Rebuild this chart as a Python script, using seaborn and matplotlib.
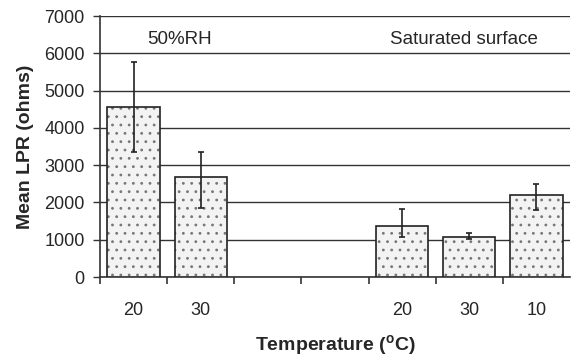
import numpy as np
import pandas as pd
import matplotlib
matplotlib.use("Agg")
import matplotlib.pyplot as plt
from matplotlib.patches import Rectangle
import seaborn as sns

# ---- data ----
slots = ["RH20", "RH30", "gap1", "gap2", "S20", "S30", "S10"]
tick_labels = ["20", "30", "", "", "20", "30", "10"]
bar_slots = ["RH20", "RH30", "S20", "S30", "S10"]
mean_lpr = [4570, 2690, 1380, 1080, 2210]
err_low = [1210, 850, 300, 70, 400]
err_high = [1190, 655, 445, 110, 295]
group_labels = ["50%RH", "Saturated surface"]

sns.set_theme(style="white")
plt.rcParams["font.family"] = ["Liberation Sans", "DejaVu Sans"]
plt.rcParams["hatch.linewidth"] = 0.8

df = pd.DataFrame({"slot": bar_slots, "lpr": mean_lpr})

fig = plt.figure(figsize=(5.73, 3.59), dpi=100)
ax = fig.add_axes([0.1745, 0.2284, 0.8203, 0.727])

sns.barplot(data=df, x="slot", y="lpr", order=slots, width=0.78,
            color="#f3f3f3", errorbar=None, ax=ax, zorder=3)

for p in list(ax.patches):
    p.set_hatch("..")
    p.set_edgecolor("#777777")
    p.set_linewidth(0)
    outline = Rectangle(p.get_xy(), p.get_width(), p.get_height(), fill=False,
                        edgecolor="#222222", linewidth=1.2, zorder=3.5)
    ax.add_patch(outline)

xpos = [slots.index(s) for s in bar_slots]
ax.errorbar(xpos, mean_lpr, yerr=[err_low, err_high], fmt="none",
            ecolor="#222222", elinewidth=1.2, capsize=2.5, capthick=1.2, zorder=4)

ax.set_ylim(0, 7000)
ax.set_xlim(-0.5, 6.5)
ax.set_yticks(np.arange(0, 7001, 1000))
ax.yaxis.grid(True, color="#333333", linewidth=1.0)
ax.set_axisbelow(True)

ax.set_xticks(range(len(slots)))
ax.set_xticklabels(tick_labels, fontsize=13)
ax.tick_params(axis="x", length=0, pad=18)
ax.set_xticks(np.arange(-0.5, 6.0, 1.0), minor=True)
ax.tick_params(axis="x", which="minor", length=5, width=1.2, color="#333333", direction="out", bottom=True)
ax.tick_params(axis="y", length=5, width=1.0, color="#333333", direction="out", left=True,
               labelsize=13, pad=6)

for side in ["top", "right"]:
    ax.spines[side].set_visible(False)
for side in ["left", "bottom"]:
    ax.spines[side].set_color("#333333")
    ax.spines[side].set_linewidth(1.2)

ax.set_ylabel("Mean LPR (ohms)", fontsize=14, fontweight="bold", labelpad=7)
ax.set_xlabel("Temperature ($\\mathregular{^o}$C)", fontsize=14, fontweight="bold", labelpad=10)

ax.text(0.69, 6370, group_labels[0], ha="center", va="center", fontsize=13.5)
ax.text(4.92, 6370, group_labels[1], ha="center", va="center", fontsize=13.5)

fig.savefig("out.png", dpi=100)
